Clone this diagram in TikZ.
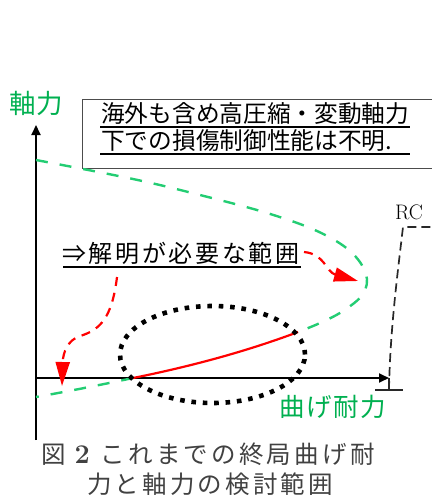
\documentclass[tikz,border=0pt]{standalone}
\usepackage{fontspec}
\usetikzlibrary{arrows.meta}
\newfontfamily\jp{Noto Sans CJK JP}
\newfontfamily\jpsp[LetterSpace=11]{Noto Sans CJK JP}
\newfontfamily\jpax[LetterSpace=6]{Noto Sans CJK JP}
\newfontfamily\capjp[LetterSpace=13]{Noto Sans CJK JP}
\definecolor{txtgreen}{RGB}{0,176,80}
\definecolor{lngreen}{RGB}{35,205,115}
\definecolor{capgray}{RGB}{65,65,65}
\definecolor{rcgray}{RGB}{40,40,40}
\tikzset{
  axisline/.style={line width=1.8pt, -{Triangle[length=10pt,width=9pt]}},
  gdash/.style={lngreen, line width=2.4pt, dash pattern=on 12pt off 12pt},
  rdash/.style={red, line width=2.2pt, dash pattern=on 9pt off 7pt, -{Triangle[length=24pt,width=14pt]}},
  rcline/.style={rcgray, line width=1.7pt, dash pattern=on 9pt off 5pt},
  dotell/.style={line width=4.6pt, dash pattern=on 4.6pt off 6.8pt},
  infobox/.style={draw=gray!60!black, line width=1pt},
  uline/.style={line width=2pt},
  boxtext/.style={inner sep=0pt, font=\jp\fontsize{23.7}{28}\selectfont},
  gtext/.style={inner sep=0pt, text=txtgreen},
  captext/.style={inner sep=0pt, text=capgray},
}
\begin{document}
\begin{tikzpicture}[x=1pt,y=-1pt]
\useasboundingbox (0,0) rectangle (431,500);
% info box
\draw[infobox] (82,100) rectangle (445,168);
\node[boxtext, anchor=west] (t1) at (101,114) {海外も含め高圧縮・変動軸力};
\node[boxtext, anchor=west] (t2) at (101,141) {下での損傷制御性能は不明.};
\draw[uline] (100,127) -- (410,127);
\draw[uline] (100,154) -- (410,154);
% axes
\coordinate (o) at (36,378);
\coordinate (ybot) at (36,440);
\coordinate (ytop) at (36,125);
\coordinate (xend) at (389,378);
\draw[axisline] (ybot) -- (ytop);
\draw[axisline] (o) -- (xend);
\node[gtext, font=\jp\fontsize{26.5}{28}\selectfont] (ylab) at (36,103) {軸力};
\node[gtext, font=\jpax\fontsize{25.5}{28}\selectfont] (xlab) at (333,407) {曲げ耐力};
% tick at end of x axis
\coordinate (tk) at (389,390);
\draw[line width=1.8pt, rcgray] (375,390) -- (403,390);
\draw[line width=1.8pt, rcgray] (xend) -- (tk);
% RC line
\coordinate (rctop) at (403,227);
\draw[rcline] (tk) .. controls (390,330) and (398,270) .. (rctop) -- (445,227);
\node[inner sep=0pt, font=\fontsize{21}{22}\selectfont] (rc) at (409,212) {RC};
% green interaction curve (upper part and lower tail)
\coordinate (ra) at (133,378);
\coordinate (rb) at (298,332);
\draw[gdash] plot[smooth, tension=0.6] coordinates {(36,160) (133,179) (200,195) (267,213) (317,231) (350,251) (366,274) (363,294) (343,311) (320,323) (298,332)};
\draw[gdash] (ra) .. controls (100,385) and (70,391) .. (36,397);
% red solid segment
\draw[red, line width=2.2pt] (ra) .. controls (188,367) and (245,352) .. (rb);
% dotted ellipse
\draw[dotell] (212.5,354.5) ellipse [x radius=92.5pt, y radius=48.5pt];
% label
\node[inner sep=0pt, anchor=west, font=\jpsp\fontsize{24}{28}\selectfont] (need) at (62,253) {⇒解明が必要な範囲};
\draw[uline] (63,267) -- (301,267);
% red arrows
\coordinate (a1s) at (304,252);
\coordinate (a1e) at (358,281);
\draw[rdash] (a1s) .. controls (325,254) and (326,272) .. (a1e);
\coordinate (a2s) at (117,277);
\coordinate (a2m) at (80,336);
\coordinate (a2e) at (62,386);
\draw[rdash] (a2s) .. controls (112,318) and (100,330) .. (a2m) .. controls (68,340) and (63,352) .. (a2e);
% caption
\node[captext, anchor=west, font=\capjp\fontsize{24.5}{28}\selectfont] (cap1) at (41,454) {図\hspace{9pt}{\rmfamily\bfseries\fontsize{27}{28}\selectfont 2}\hspace{11pt}これまでの終局曲げ耐};
\node[captext, anchor=west, font=\capjp\fontsize{24.5}{28}\selectfont] (cap2) at (87,484) {力と軸力の検討範囲};
\end{tikzpicture}
\end{document}
